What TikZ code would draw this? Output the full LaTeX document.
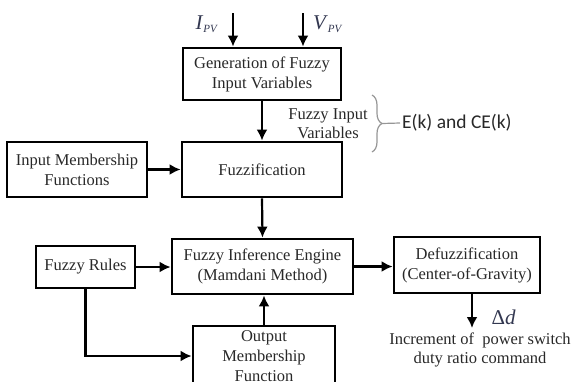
\documentclass[tikz,border=0pt]{standalone}
\usepackage{fontspec}
\setmainfont{Liberation Serif}
\newfontfamily\calib{Carlito}
\usetikzlibrary{arrows.meta,decorations.pathreplacing}
\definecolor{txtgray}{RGB}{40,40,40}
\definecolor{mathslate}{RGB}{50,55,80}
\definecolor{bracegray}{RGB}{150,150,150}
\begin{document}
\begin{tikzpicture}[x=1pt, y=1pt,
  box/.style={draw, line width=2.8pt, rectangle, inner sep=0pt, align=center, text=txtgray, font=\fontsize{16.5}{20}\selectfont},
  flow/.style={-{Latex[length=11pt,width=11pt]}, line width=2.2pt},
  note/.style={text=txtgray, align=center, font=\fontsize{16.5}{19}\selectfont},
  mathlbl/.style={text=mathslate, font=\fontsize{21}{24}\selectfont}]
\clip (0,0) rectangle (574,-381);
\node[box, minimum width=158pt, minimum height=52pt] (gen) at (262, -74) {Generation of Fuzzy\\Input Variables};
\node[box, minimum width=160pt, minimum height=55pt] (fuzz) at (262, -169.5) {Fuzzification};
\node[box, minimum width=140pt, minimum height=55pt] (imf) at (77, -169.5) {Input Membership\\Functions};
\node[box, minimum width=181pt, minimum height=55pt] (fie) at (262.5, -266.5) {Fuzzy Inference Engine\\(Mamdani Method)};
\node[box, minimum width=99pt, minimum height=42pt] (rules) at (85.5, -267) {Fuzzy Rules};
\node[box, minimum width=142pt, minimum height=60pt] (omf) at (264, -356) {Output\\Membership\\Function};
\node[box, minimum width=146pt, minimum height=56pt] (defuzz) at (467, -265) {Defuzzification\\(Center-of-Gravity)};
\coordinate (ipv) at (233, -13);
\coordinate (vpv) at (303, -13);
\coordinate (out) at (472, -328);
\coordinate (bracetip) at (382, -123.5);
\node[mathlbl] (ilab) at (207, -24) {\textit{I}\textsubscript{\fontsize{11}{12}\selectfont\textit{PV}}};
\node[mathlbl] (vlab) at (328, -24) {\textit{V}\textsubscript{\fontsize{11}{12}\selectfont\textit{PV}}};
\node[note] (fiv) at (328, -124) {Fuzzy Input\\Variables};
\node[mathlbl, anchor=west] (dlab) at (488, -317) {Δ\textit{d}};
\node[note] (incr) at (480, -350) {Increment of~ power switch\\duty ratio command};
\node[anchor=west, text=txtgray, font=\calib\fontsize{19.5}{22}\selectfont, inner sep=2pt] (ek) at (400, -123) {E(k) and CE(k)};
\draw[flow] (ipv) -- (ipv |- gen.north);
\draw[flow] (vpv) -- (vpv |- gen.north);
\draw[flow] (gen.south) -- (fuzz.north);
\draw[flow] (imf.east) -- (fuzz.west);
\draw[flow] (fuzz.south) -- (fie.north);
\draw[flow] (rules.east) -- (rules.east -| fie.west);
\draw[flow] (omf.north) -- (omf.north |- fie.south);
\draw[flow] (fie.east) -- (fie.east -| defuzz.west);
\draw[flow] (rules.south) |- (omf.west);
\draw[flow] (out |- defuzz.south) -- (out);
\draw[bracegray, line width=1.2pt, decorate, decoration={brace, amplitude=10pt}] (372, -95) -- (372, -152);
\draw[bracegray, line width=1.2pt] (bracetip) -- (ek.west);
\end{tikzpicture}
\end{document}
